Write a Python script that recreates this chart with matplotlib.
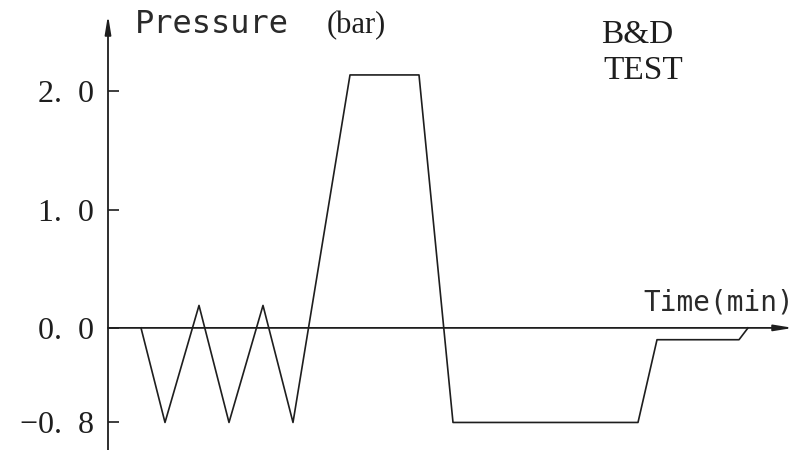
import numpy as np
import matplotlib.pyplot as plt

# B&D test pressure profile (time in arbitrary minutes, pressure in bar)
time = [3.3, 5.7, 9.1, 12.1, 15.5, 18.5, 24.2, 31.1, 34.5, 53.0, 54.9, 63.1, 64.0]
pressure = [0.0, -0.8, 0.19, -0.8, 0.19, -0.8, 2.14, 2.14, -0.8, -0.8, -0.1, -0.1, 0.0]

ytick_vals = [2.0, 1.0, 0.0, -0.8]
ytick_labels = ["2.  0", "1.  0", "0.  0", "\u22120.  8"]

ink = "#1e1e1e"

fig = plt.figure(figsize=(8.01, 4.5), dpi=100)
ax = fig.add_axes([108 / 801, 0, 687 / 801, 1])
ax.set_xlim(0, 68.7)
ax.set_ylim(-1.033, 2.774)
for s in ax.spines.values():
    s.set_visible(False)

# axes with arrow heads
arrow = dict(arrowstyle="-|>,head_length=1.1,head_width=0.18", lw=1.3,
             color=ink, mutation_scale=10, shrinkA=0, shrinkB=0)
ax.annotate("", xy=(0, 2.647), xytext=(0, -1.033), arrowprops=arrow,
            annotation_clip=False)
ax.annotate("", xy=(68.5, 0), xytext=(0, 0), arrowprops=arrow,
            annotation_clip=False)

ax.plot(time, pressure, color=ink, lw=1.2)

ax.set_xticks([])
ax.set_yticks(ytick_vals)
ax.set_yticklabels(ytick_labels, fontfamily="Liberation Serif", fontsize=23,
                   color=ink)
ax.tick_params(axis="y", direction="in", length=8, width=1.2, color=ink, pad=10)

cad = dict(fontfamily="DejaVu Sans Mono", color="#2a2a2a",
           va="baseline", ha="left")
ax.text(2.7, 2.495, "Pressure", fontsize=23, **cad)
ax.text(21.9, 2.495, "(bar)", fontfamily="Liberation Serif", fontsize=22,
        color=ink, va="baseline", ha="left")
ax.text(53.5, 0.146, "Time(min)", fontsize=20, **cad)

serif = dict(fontfamily="Liberation Serif", fontsize=24, color=ink,
             va="baseline", ha="left")
ax.text(49.3, 2.408, "B&D", **serif)
ax.text(49.5, 2.103, "TEST", **serif)

fig.savefig("out.png", dpi=100)
